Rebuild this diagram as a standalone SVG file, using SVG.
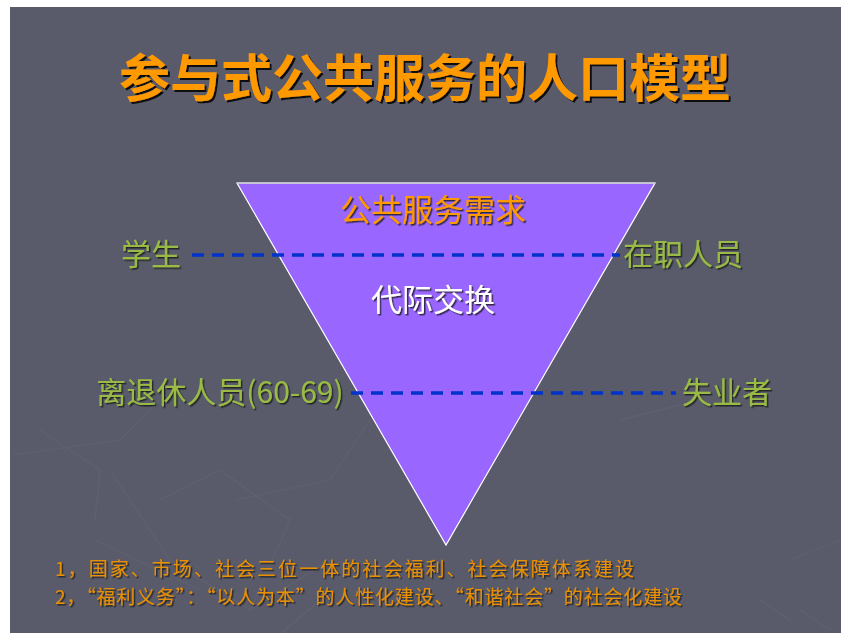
<svg xmlns="http://www.w3.org/2000/svg" width="841" height="633" viewBox="0 0 841 633">
<defs>
<filter id="sh" x="-10%" y="-30%" width="120%" height="160%">
<feDropShadow dx="2" dy="2" stdDeviation="0.3" flood-color="#000" flood-opacity="0.85"/>
</filter>
<filter id="sh2" x="-10%" y="-30%" width="120%" height="160%">
<feDropShadow dx="1.5" dy="1.5" stdDeviation="0.3" flood-color="#1a1a1a" flood-opacity="0.8"/>
</filter>
<style>
text{font-family:"Noto Sans CJK SC","Noto Sans",sans-serif}
.title{font-size:51px;fill:#FF9900;font-weight:bold;filter:url(#sh)}
.lbl{font-size:30px;fill:#99BB44;filter:url(#sh2)}
.dash{stroke:#0033CC;stroke-width:3.5;stroke-dasharray:12 8;fill:none}
.note{font-size:19px;fill:#E89000;filter:url(#sh2)}
.bgl{stroke:#6A6C7C;stroke-width:1.2;fill:none;opacity:0.35}
</style>
</defs>
<rect x="0" y="0" width="841" height="633" fill="#FFFFFF"/>
<rect x="10" y="7" width="831" height="626" fill="#595B6B"/>
<g id="background-pattern">
<path class="bgl" d="M12 455 L120 440 L160 400 M40 430 L100 470 L95 520 M110 470 L170 560 L250 610 L330 560 M160 500 L220 470 L290 520 L250 610 M95 540 L200 590 M235 500 L330 480 L370 420 M250 660 L320 600 M620 420 L700 400 M760 600 L790 620 M790 560 L840 540 M800 610 L830 630"/>
</g>
<g id="title">
<text class="title" x="425" y="97" text-anchor="middle">参与式公共服务的人口模型</text>
</g>
<g id="triangle">
<polygon points="237,183 655,183 446,545" fill="#9966FF" stroke="#FFFFFF" stroke-width="1.2"/>
<line x1="237" y1="183" x2="655" y2="183" stroke="#C8C8D0" stroke-width="1.5"/>
<text x="433" y="221" text-anchor="middle" style="font-size:31px;fill:#FF9900;filter:url(#sh2)">公共服务需求</text>
<text x="433" y="311" text-anchor="middle" style="font-size:31px;fill:#FFFFFF;filter:url(#sh2)">代际交换</text>
</g>
<g id="connectors">
<line class="dash" x1="192" y1="255" x2="620" y2="255"/>
<line class="dash" x1="351" y1="393" x2="676" y2="393"/>
</g>
<g id="node-student">
<text class="lbl" x="151" y="265" text-anchor="middle">学生</text>
</g>
<g id="node-employed">
<text class="lbl" x="683" y="265" text-anchor="middle">在职人员</text>
</g>
<g id="node-retired">
<text class="lbl" x="220" y="403" text-anchor="middle">离退休人员(60-69)</text>
</g>
<g id="node-unemployed">
<text class="lbl" x="727" y="403" text-anchor="middle">失业者</text>
</g>
<g id="notes">
<text class="note" x="55" y="576" textLength="579" lengthAdjust="spacing">1，国家、市场、社会三位一体的社会福利、社会保障体系建设</text>
<text class="note" x="55" y="604" textLength="627" lengthAdjust="spacing">2，“福利义务”：“以人为本”的人性化建设、“和谐社会”的社会化建设</text>
</g>
</svg>
